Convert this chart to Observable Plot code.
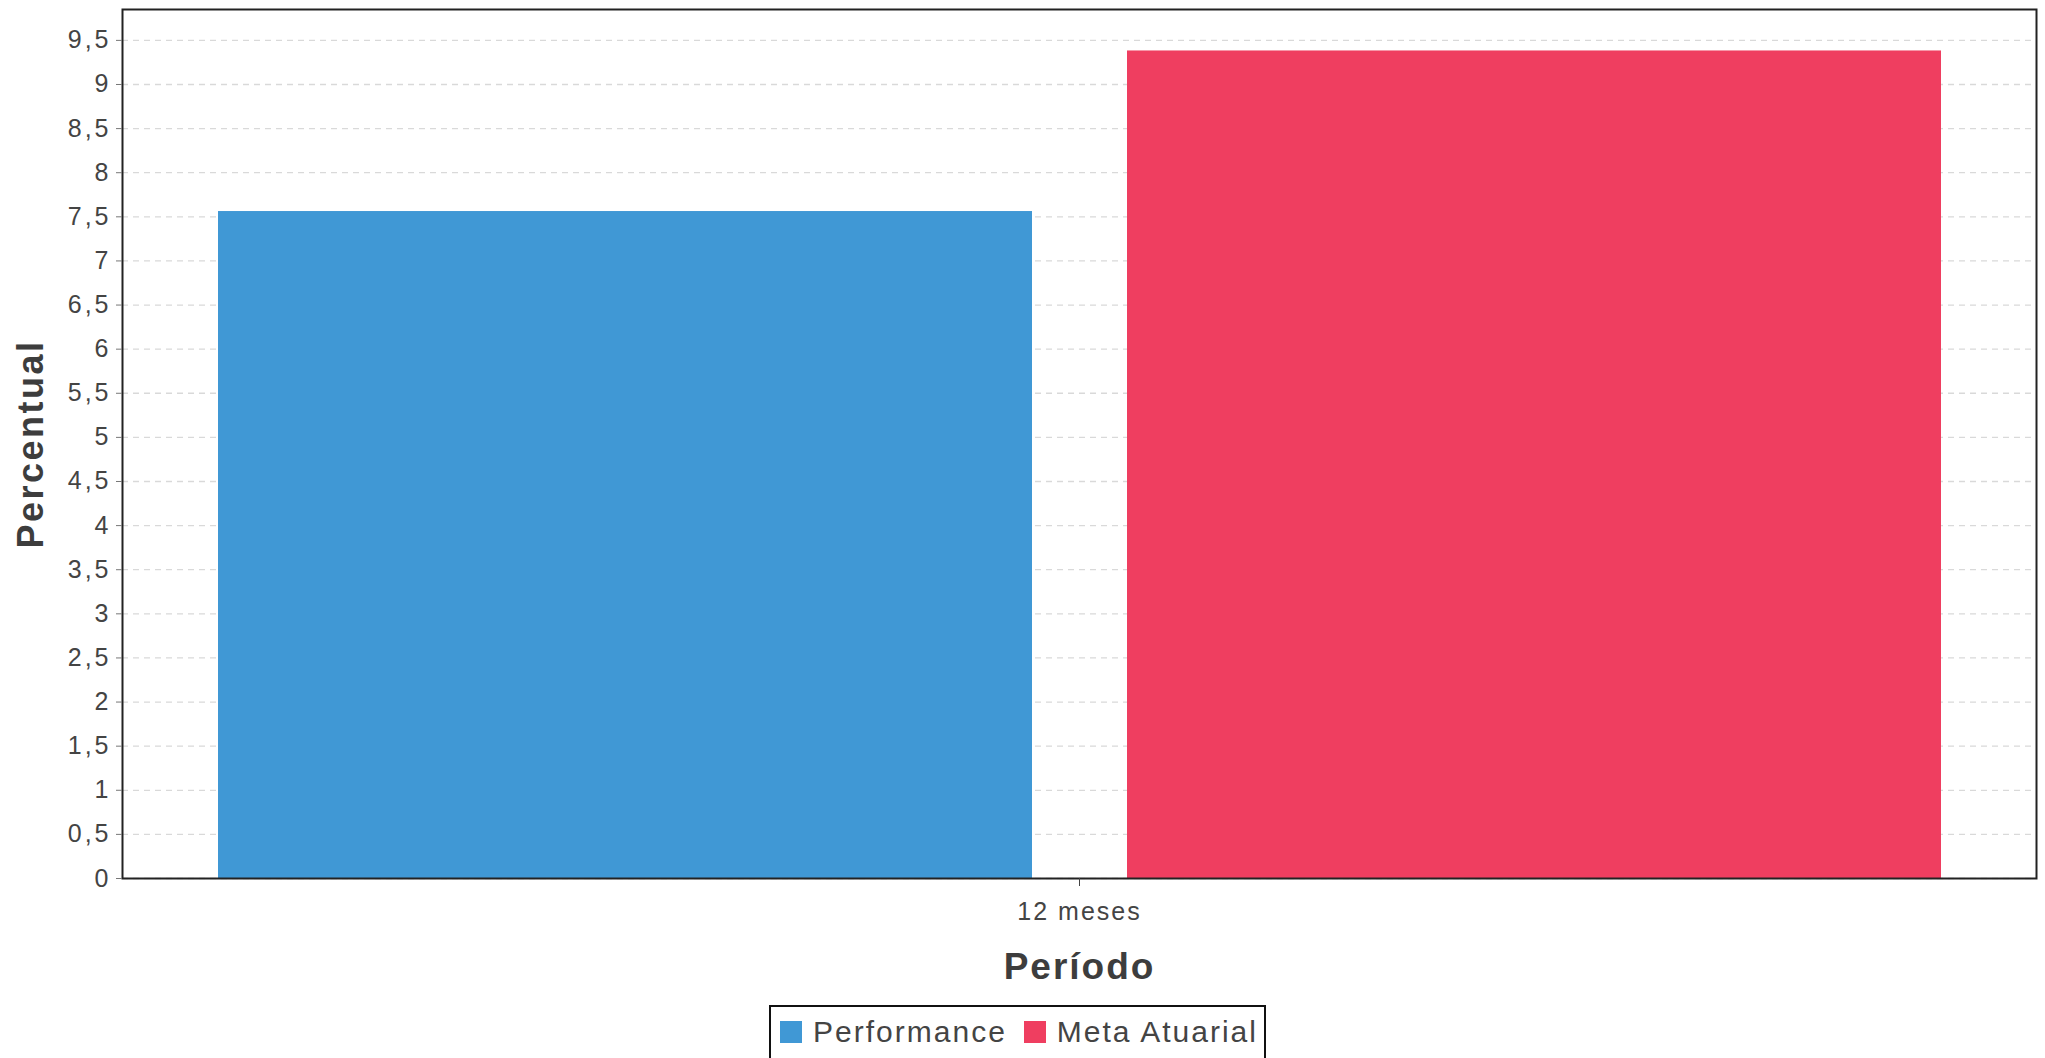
<!DOCTYPE html>
<html>
<head>
<meta charset="utf-8">
<script src="https://cdn.jsdelivr.net/npm/d3@7"></script>
<script src="https://cdn.jsdelivr.net/npm/@observablehq/plot@0.6"></script>
<style>
  body { margin: 0; background: #fff; font-family: "Liberation Sans", Arial, sans-serif; }
  #legend { display: flex; justify-content: center; margin-top: 10px; transform: translateX(-5px); }
  #legend .box { border: 2px solid #111; padding: 7px 6px 16px 9px; display: flex; align-items: center; gap: 17px; }
  #legend .item { display: flex; align-items: center; }
  #legend .sw { width: 22px; height: 22px; margin-right: 11px; }
  #legend .lab { font-size: 30px; color: #444; letter-spacing: 2px; line-height: 36px; }
</style>
</head>
<body>
<div id="chart"></div>
<div id="legend"></div>
<script>
// ---- data ----
const periods = ["12 meses"];
const seriesNames = ["Performance", "Meta Atuarial"];
const values = [7.56, 9.38];
const colors = ["#4098d5", "#ef3e60"];
const yTicks = [0, 0.5, 1, 1.5, 2, 2.5, 3, 3.5, 4, 4.5, 5, 5.5, 6, 6.5, 7, 7.5, 8, 8.5, 9, 9.5];
const yMax = 9.85;
const xTitle = "Período";
const yTitle = "Percentual";

const data = seriesNames.map((s, i) => ({period: periods[0], series: s, value: values[i]}));
const fmt = d => String(d).replace(".", ",");

const chart = Plot.plot({
  width: 2045,
  height: 995,
  marginLeft: 122,
  marginRight: 9,
  marginTop: 9,
  marginBottom: 117,
  style: {fontFamily: '"Liberation Sans", Arial, sans-serif', color: "#444", background: "#fff"},
  fx: {domain: periods, padding: 0, label: null},
  x: {domain: seriesNames, padding: 0.105, axis: null},
  y: {domain: [0, yMax], label: null},
  color: {domain: seriesNames, range: colors},
  marks: [
    Plot.gridY(yTicks, {stroke: "#d9d9d9", strokeOpacity: 1, strokeWidth: 1.3, strokeDasharray: "6,5"}),
    Plot.barY(data, {fx: "period", x: "series", y: "value", fill: "series"}),
    Plot.frame({stroke: "#222", strokeWidth: 2}),
    Plot.axisY(yTicks, {anchor: "left", tickSize: 6, tickPadding: 5, tickFormat: fmt, fontSize: 25, stroke: "#777", fill: "#444", label: null}),
    Plot.axisY({anchor: "left", ticks: [], tickSize: 0, label: yTitle, labelArrow: false, labelAnchor: "center", labelOffset: 105, fontSize: 36, fontWeight: "bold", fill: "#3d3d3d"}),
    Plot.axisFx({anchor: "bottom", tickSize: 8, tickPadding: 16, fontSize: 25, stroke: "#444", fill: "#444", label: null}),
    Plot.axisFx({anchor: "bottom", ticks: [], tickSize: 0, label: xTitle, labelArrow: false, labelAnchor: "center", labelOffset: 100, fontSize: 37, fontWeight: "bold", fill: "#3d3d3d"})
  ]
});
document.getElementById("chart").append(chart);

// letter spacing tweaks
const svg = d3.select(chart);
svg.selectAll('[aria-label="y-axis tick label"] text').style("letter-spacing", "3px");
svg.selectAll('[aria-label="y-axis label"] text').style("letter-spacing", "2.5px");
svg.selectAll('[aria-label="fx-axis tick label"] text').style("letter-spacing", "2px");
svg.selectAll('[aria-label="fx-axis label"] text').style("letter-spacing", "2px");

// legend
const box = d3.select("#legend").append("div").attr("class", "box");
seriesNames.forEach((s, i) => {
  const it = box.append("div").attr("class", "item");
  it.append("div").attr("class", "sw").style("background", colors[i]);
  it.append("span").attr("class", "lab").text(s);
});
</script>
</body>
</html>
